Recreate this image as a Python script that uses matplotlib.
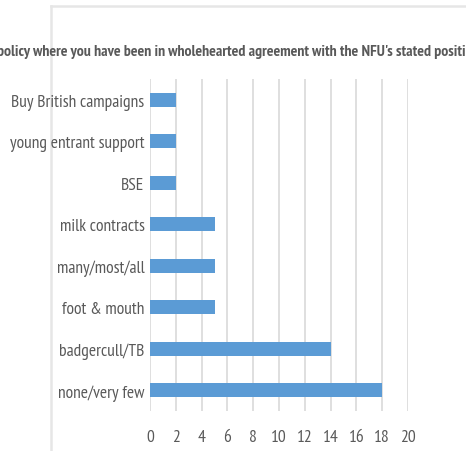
import matplotlib.pyplot as plt
from matplotlib.lines import Line2D

categories = ['none/very few', 'badgercull/TB', 'foot & mouth', 'many/most/all',
              'milk contracts', 'BSE', 'young entrant support', 'Buy British campaigns']
counts = [18, 14, 5, 5, 5, 2, 2, 2]
xticks = [0, 2, 4, 6, 8, 10, 12, 14, 16, 18, 20]
title = "policy where you have been in wholehearted agreement with the NFU's stated position"

plt.rcParams['font.family'] = ['PT Sans Narrow', 'DejaVu Sans']
txt = '#595959'
grid = '#D9D9D9'

fig = plt.figure(figsize=(4.66, 4.52), dpi=100)
ax = fig.add_axes([150 / 466, 1 - 412 / 452, 258 / 466, 332 / 452])

ypos = list(range(len(categories)))
ax.barh(ypos, counts, height=0.34, color='#5B9BD5', zorder=3)
ax.set_xlim(0, 20)
ax.set_ylim(-0.5, len(categories) - 0.5)
ax.set_xticks(xticks)
ax.set_xticklabels([str(t) for t in xticks])
ax.set_yticks(ypos)
ax.set_yticklabels(categories)
ax.xaxis.grid(True, color=grid, linewidth=1.2, zorder=0)
for s in ax.spines.values():
    s.set_visible(False)
ax.tick_params(axis='both', length=0, labelsize=12.6, colors=txt)
ax.tick_params(axis='x', pad=13)
ax.tick_params(axis='y', pad=4)

# chart frame (partially visible)
fig.add_artist(Line2D([51 / 466, 51 / 466], [0, 1 - 7 / 452], color='#E6E6E6', lw=1.8, zorder=0))
fig.add_artist(Line2D([51 / 466, 1], [1 - 7 / 452, 1 - 7 / 452], color='#E6E6E6', lw=1.8, zorder=0))

fig.text(-3 / 466, 1 - 52 / 452, title, fontsize=11.3, fontweight='bold', color=txt,
         ha='left', va='center')

fig.savefig('out.png', dpi=100)
